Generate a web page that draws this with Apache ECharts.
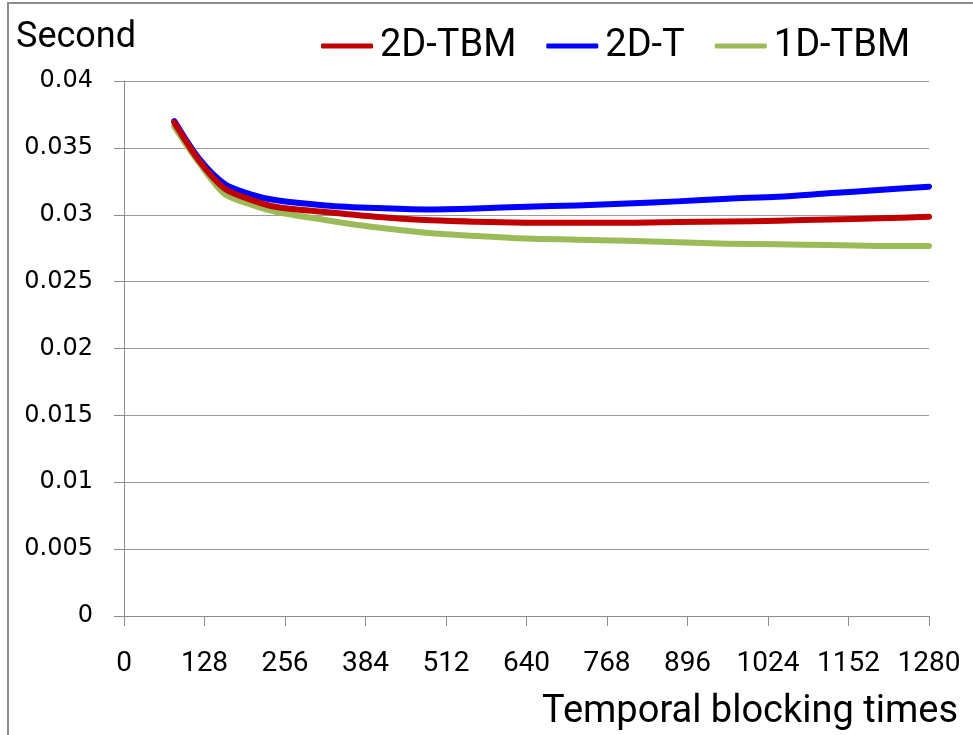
<!DOCTYPE html>
<html>
<head>
<meta charset="utf-8">
<script src="https://cdn.jsdelivr.net/npm/echarts@6/dist/echarts.min.js"></script>
<style>
  html, body { margin: 0; padding: 0; background: #fff; }
  #chart { width: 973px; height: 735px; }
</style>
</head>
<body>
<div id="chart"></div>
<script>
// Temporal blocking sizes (x) and run time in seconds for each variant
const blockTimes = [80, 120, 160, 200, 240, 320, 400, 480, 560, 640, 720, 800, 880, 960, 1040, 1120, 1200, 1280];
const tbm2d = [0.0369, 0.0340, 0.03195, 0.03115, 0.0306, 0.0302, 0.02985, 0.0296, 0.02948, 0.02941, 0.0294, 0.0294, 0.02945, 0.0295, 0.02955, 0.02965, 0.02973, 0.02985];
const t2d   = [0.0370, 0.03415, 0.0323, 0.03155, 0.0311, 0.0307, 0.0305, 0.0304, 0.03047, 0.0306, 0.0307, 0.03085, 0.0310, 0.0312, 0.03135, 0.0316, 0.03185, 0.0321];
const tbm1d = [0.0366, 0.03385, 0.03155, 0.0308, 0.03024, 0.02961, 0.02906, 0.02866, 0.02841, 0.02822, 0.02814, 0.02806, 0.02794, 0.02784, 0.02779, 0.02773, 0.02767, 0.02766];
const seriesNames = ['2D-TBM', '2D-T', '1D-TBM'];
const seriesColors = ['#C00000', '#0000FF', '#9BBB59'];
const xTicks = { min: 0, max: 1280, step: 128 };
const yTicks = { min: 0, max: 0.04, step: 0.005 };

const pairs = (ys) => blockTimes.map((x, i) => [x, ys[i]]);
const values = [tbm2d, t2d, tbm1d];
const textFont = 'Roboto, sans-serif';

const chart = echarts.init(document.getElementById('chart'), null, { renderer: 'canvas' });
chart.setOption({
  animation: false,
  backgroundColor: '#ffffff',
  graphic: [{
    type: 'rect',
    shape: { x: 8, y: 3, width: 1000, height: 800 },
    style: { fill: 'none', stroke: '#8c8c8c', lineWidth: 2 },
    silent: true
  }],
  title: [
    { text: 'Second', left: 11, top: 15,
      textStyle: { fontFamily: textFont, fontSize: 36, fontWeight: 'normal', color: '#000' } },
    { text: 'Temporal blocking times', right: 10, top: 688,
      textStyle: { fontFamily: textFont, fontSize: 38, fontWeight: 'normal', color: '#000' } }
  ],
  legend: {
    left: 316, top: 22,
    itemWidth: 52, itemHeight: 5, itemGap: 30,
    icon: 'roundRect',
    textStyle: { fontFamily: textFont, fontSize: 38, color: '#000', padding: [0, 0, 0, 2] },
    data: seriesNames
  },
  grid: { left: 124, right: 44, top: 81, bottom: 119, containLabel: false },
  xAxis: {
    type: 'value', min: xTicks.min, max: xTicks.max, interval: xTicks.step,
    axisLine: { show: true, lineStyle: { color: '#8c8c8c', width: 1 } },
    axisTick: { show: true, length: 10, lineStyle: { color: '#8c8c8c' } },
    splitLine: { show: false },
    axisLabel: { margin: 34, color: '#000', fontSize: 28, fontFamily: textFont,
      formatter: (v) => String(v) }
  },
  yAxis: {
    type: 'value', min: yTicks.min, max: yTicks.max, interval: yTicks.step,
    axisLine: { show: true, lineStyle: { color: '#8c8c8c', width: 1 } },
    axisTick: { show: true, length: 10, lineStyle: { color: '#8c8c8c' } },
    splitLine: { show: true, lineStyle: { color: '#999999', width: 1 } },
    axisLabel: { margin: 31, color: '#000', fontSize: 24, fontFamily: 'DejaVu Sans, sans-serif',
      formatter: (v) => String(Number(v.toFixed(3))) }
  },
  series: seriesNames.map((name, i) => ({
    name,
    type: 'line',
    data: pairs(values[i]),
    smooth: 0.3,
    symbol: 'none',
    itemStyle: { color: seriesColors[i] },
    lineStyle: { color: seriesColors[i], width: 6, cap: 'round', join: 'round' },
    z: 3 - i
  }))
});
</script>
</body>
</html>
